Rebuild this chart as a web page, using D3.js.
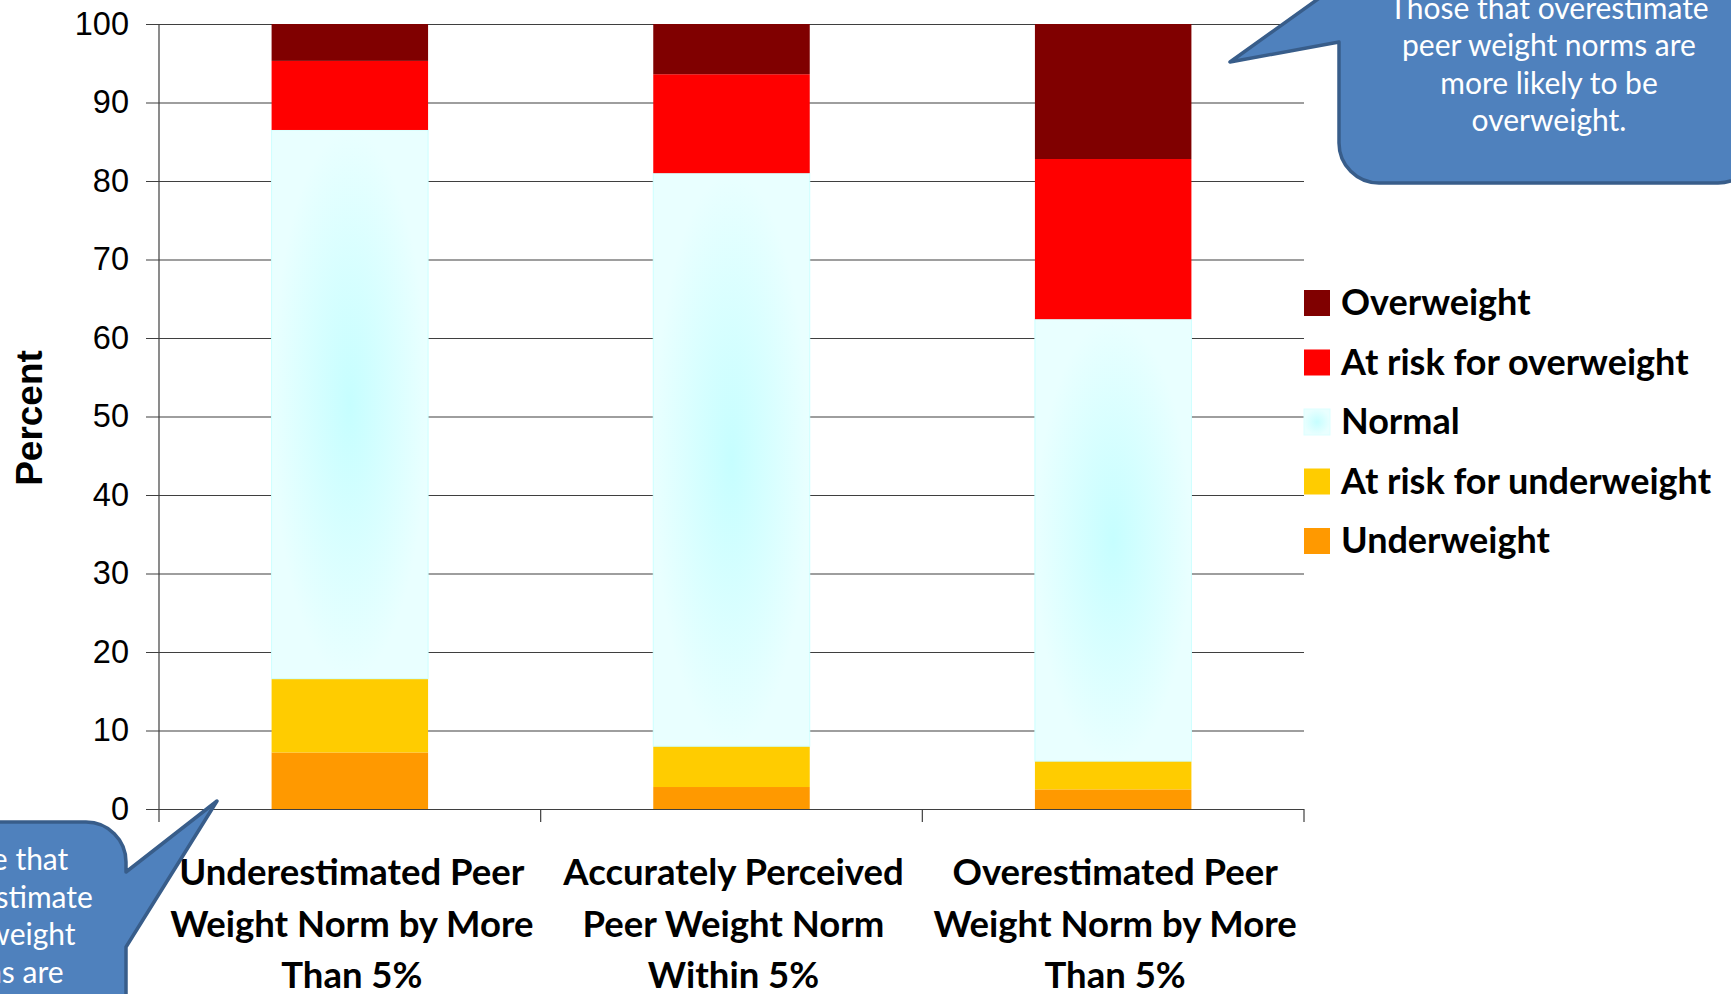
<!DOCTYPE html>
<html>
<head>
<meta charset="utf-8">
<script src="https://cdn.jsdelivr.net/npm/d3@7"></script>
<style>
  html, body { margin: 0; padding: 0; background: #ffffff; overflow: hidden; }
  svg { display: block; }
</style>
</head>
<body>
<svg id="chart" width="1731" height="994"></svg>
<script>
// Weight status by perception of peer weight norms (stacked percent)
const categories = [
  ["Underestimated Peer", "Weight Norm by More", "Than 5%"],
  ["Accurately Perceived", "Peer Weight Norm", "Within 5%"],
  ["Overestimated Peer", "Weight Norm by More", "Than 5%"]
];
const seriesNames = ["Underweight", "At risk for underweight", "Normal", "At risk for overweight", "Overweight"];
const underweight       = [7.2, 2.8, 2.5];
const atRiskUnderweight = [9.4, 5.2, 3.6];
const normal            = [69.9, 73.0, 56.3];
const atRiskOverweight  = [8.8, 12.6, 20.4];
const overweight        = [4.7, 6.4, 17.2];
const yTicks = [0, 10, 20, 30, 40, 50, 60, 70, 80, 90, 100];
const calloutRight = ["Those that overestimate", "peer weight norms are", "more likely to be", "overweight."];
const calloutLeft  = ["Those that", "underestimate", "peer weight", "norms are", "more likely to be", "underweight."];

const seriesValues = [underweight, atRiskUnderweight, normal, atRiskOverweight, overweight];
const colors = ["#FF9900", "#FFCC00", "url(#normalFill)", "#FF0000", "#800000"];

const svg = d3.select("#chart");
const defs = svg.append("defs");
const grad = defs.append("radialGradient").attr("id", "normalFill")
  .attr("cx", "0.5").attr("cy", "0.5").attr("r", "0.5");
grad.append("stop").attr("offset", "0").attr("stop-color", "#C6FEFF");
grad.append("stop").attr("offset", "1").attr("stop-color", "#E9FFFF");

const plot = { left: 159, right: 1304, top: 24, bottom: 809 };

const keys = categories.map((c, i) => "c" + i);
const x = d3.scaleBand().domain(keys).range([plot.left, plot.right]).padding(0);
const y = d3.scaleLinear().domain([0, 100]).range([plot.bottom, plot.top]);
const barW = x.bandwidth() * 0.41;

// gridlines + y axis ticks
const yAxis = d3.axisLeft(y).tickValues(yTicks).tickSize(plot.right - plot.left + 13).tickPadding(17);
const gy = svg.append("g").attr("transform", `translate(${plot.right},0)`).call(yAxis);
gy.select(".domain").remove();
gy.selectAll(".tick line").attr("stroke", "#3f3f3f").attr("stroke-width", 1.2);
gy.selectAll(".tick text")
  .attr("font-family", "'Liberation Sans', Arial, sans-serif")
  .attr("font-size", 32.5).attr("fill", "#000");

// vertical axis line
svg.append("line")
  .attr("x1", plot.left).attr("x2", plot.left)
  .attr("y1", plot.top).attr("y2", plot.bottom + 13)
  .attr("stroke", "#3f3f3f").attr("stroke-width", 1.2);

// category boundary ticks
const bounds = keys.map(k => x(k) + x.bandwidth());
svg.append("g").selectAll("line").data(bounds).join("line")
  .attr("x1", d => d).attr("x2", d => d)
  .attr("y1", plot.bottom).attr("y2", plot.bottom + 13)
  .attr("stroke", "#3f3f3f").attr("stroke-width", 1.2);

// stacked bars
const rows = keys.map((k, i) => {
  const r = { key: k };
  seriesNames.forEach((s, j) => r[s] = seriesValues[j][i]);
  return r;
});
const stacked = d3.stack().keys(seriesNames)(rows);

const gBars = svg.append("g");
stacked.forEach((layer, j) => {
  gBars.append("g").selectAll("rect").data(layer).join("rect")
    .attr("x", d => x(d.data.key) + (x.bandwidth() - barW) / 2)
    .attr("width", barW)
    .attr("y", d => y(d[1]))
    .attr("height", d => y(d[0]) - y(d[1]))
    .attr("fill", colors[j])
    .attr("stroke", j === 2 ? "#CCFFFF" : "none")
    .attr("stroke-width", 1);
});

// category labels
const catFont = "Lato, 'Open Sans', sans-serif";
categories.forEach((lines, i) => {
  const cx = x(keys[i]) + x.bandwidth() / 2 + 2;
  const t = svg.append("text")
    .attr("text-anchor", "middle")
    .attr("font-family", catFont).attr("font-weight", 700)
    .attr("font-size", 36.5).attr("fill", "#000");
  lines.forEach((ln, k) => {
    t.append("tspan").attr("x", cx).attr("y", 885 + k * 51.5).text(ln);
  });
});

// y axis title
svg.append("text")
  .attr("transform", "translate(42,418) rotate(-90)")
  .attr("text-anchor", "middle")
  .attr("font-family", "'Liberation Sans', Arial, sans-serif")
  .attr("font-weight", 700).attr("font-size", 37).attr("fill", "#000")
  .text("Percent");

// legend (top to bottom: heaviest first)
const legendOrder = [4, 3, 2, 1, 0];
const lg = svg.append("g");
legendOrder.forEach((j, k) => {
  const cy = 303 + k * 59.5;
  lg.append("rect")
    .attr("x", 1304).attr("y", cy - 13).attr("width", 26).attr("height", 26)
    .attr("fill", colors[j])
    .attr("stroke", j === 2 ? "#DDFFFF" : "none");
  lg.append("text")
    .attr("x", 1341).attr("y", cy + 12)
    .attr("font-family", catFont).attr("font-weight", 700)
    .attr("font-size", 36).attr("fill", "#000")
    .text(seriesNames[j]);
});

// speech-bubble callouts
const bubbleFill = "#4F81BD", bubbleStroke = "#385D8A";

// right callout: box with pointer out of its left side
(function () {
  const x0 = 1339, x1 = 1758, y0 = -80, y1 = 183, r = 40;
  const p = d3.path();
  p.moveTo(x0, y0);
  p.lineTo(x0, -16);
  p.lineTo(1230, 62);
  p.lineTo(x0, 42);
  p.lineTo(x0, y1 - r);
  p.arcTo(x0, y1, x0 + r, y1, r);
  p.lineTo(x1 - r, y1);
  p.arcTo(x1, y1, x1, y1 - r, r);
  p.lineTo(x1, y0);
  p.closePath();
  svg.append("path").attr("d", p.toString())
    .attr("fill", bubbleFill).attr("stroke", bubbleStroke).attr("stroke-width", 3.5)
    .attr("stroke-linejoin", "round");
  const t = svg.append("text").attr("text-anchor", "middle")
    .attr("font-family", "Lato, sans-serif").attr("font-size", 30).attr("fill", "#fff");
  calloutRight.forEach((ln, k) => t.append("tspan").attr("x", 1549).attr("y", 19 + k * 37.3).text(ln));
})();

// left callout: box with pointer out of its right side
(function () {
  const x0 = -130, x1 = 126, y0 = 822, y1 = 1100, r = 40;
  const p = d3.path();
  p.moveTo(x0, y0);
  p.lineTo(x1 - r, y0);
  p.arcTo(x1, y0, x1, y0 + r, r);
  p.lineTo(x1, 872);
  p.lineTo(217, 801);
  p.lineTo(x1, 947);
  p.lineTo(x1, y1);
  p.lineTo(x0, y1);
  p.closePath();
  svg.append("path").attr("d", p.toString())
    .attr("fill", bubbleFill).attr("stroke", bubbleStroke).attr("stroke-width", 3.5)
    .attr("stroke-linejoin", "round");
  const t = svg.append("text").attr("text-anchor", "middle")
    .attr("font-family", "Lato, sans-serif").attr("font-size", 30).attr("fill", "#fff");
  calloutLeft.forEach((ln, k) => t.append("tspan").attr("x", -2).attr("y", 870 + k * 37.5).text(ln));
})();
</script>
</body>
</html>
